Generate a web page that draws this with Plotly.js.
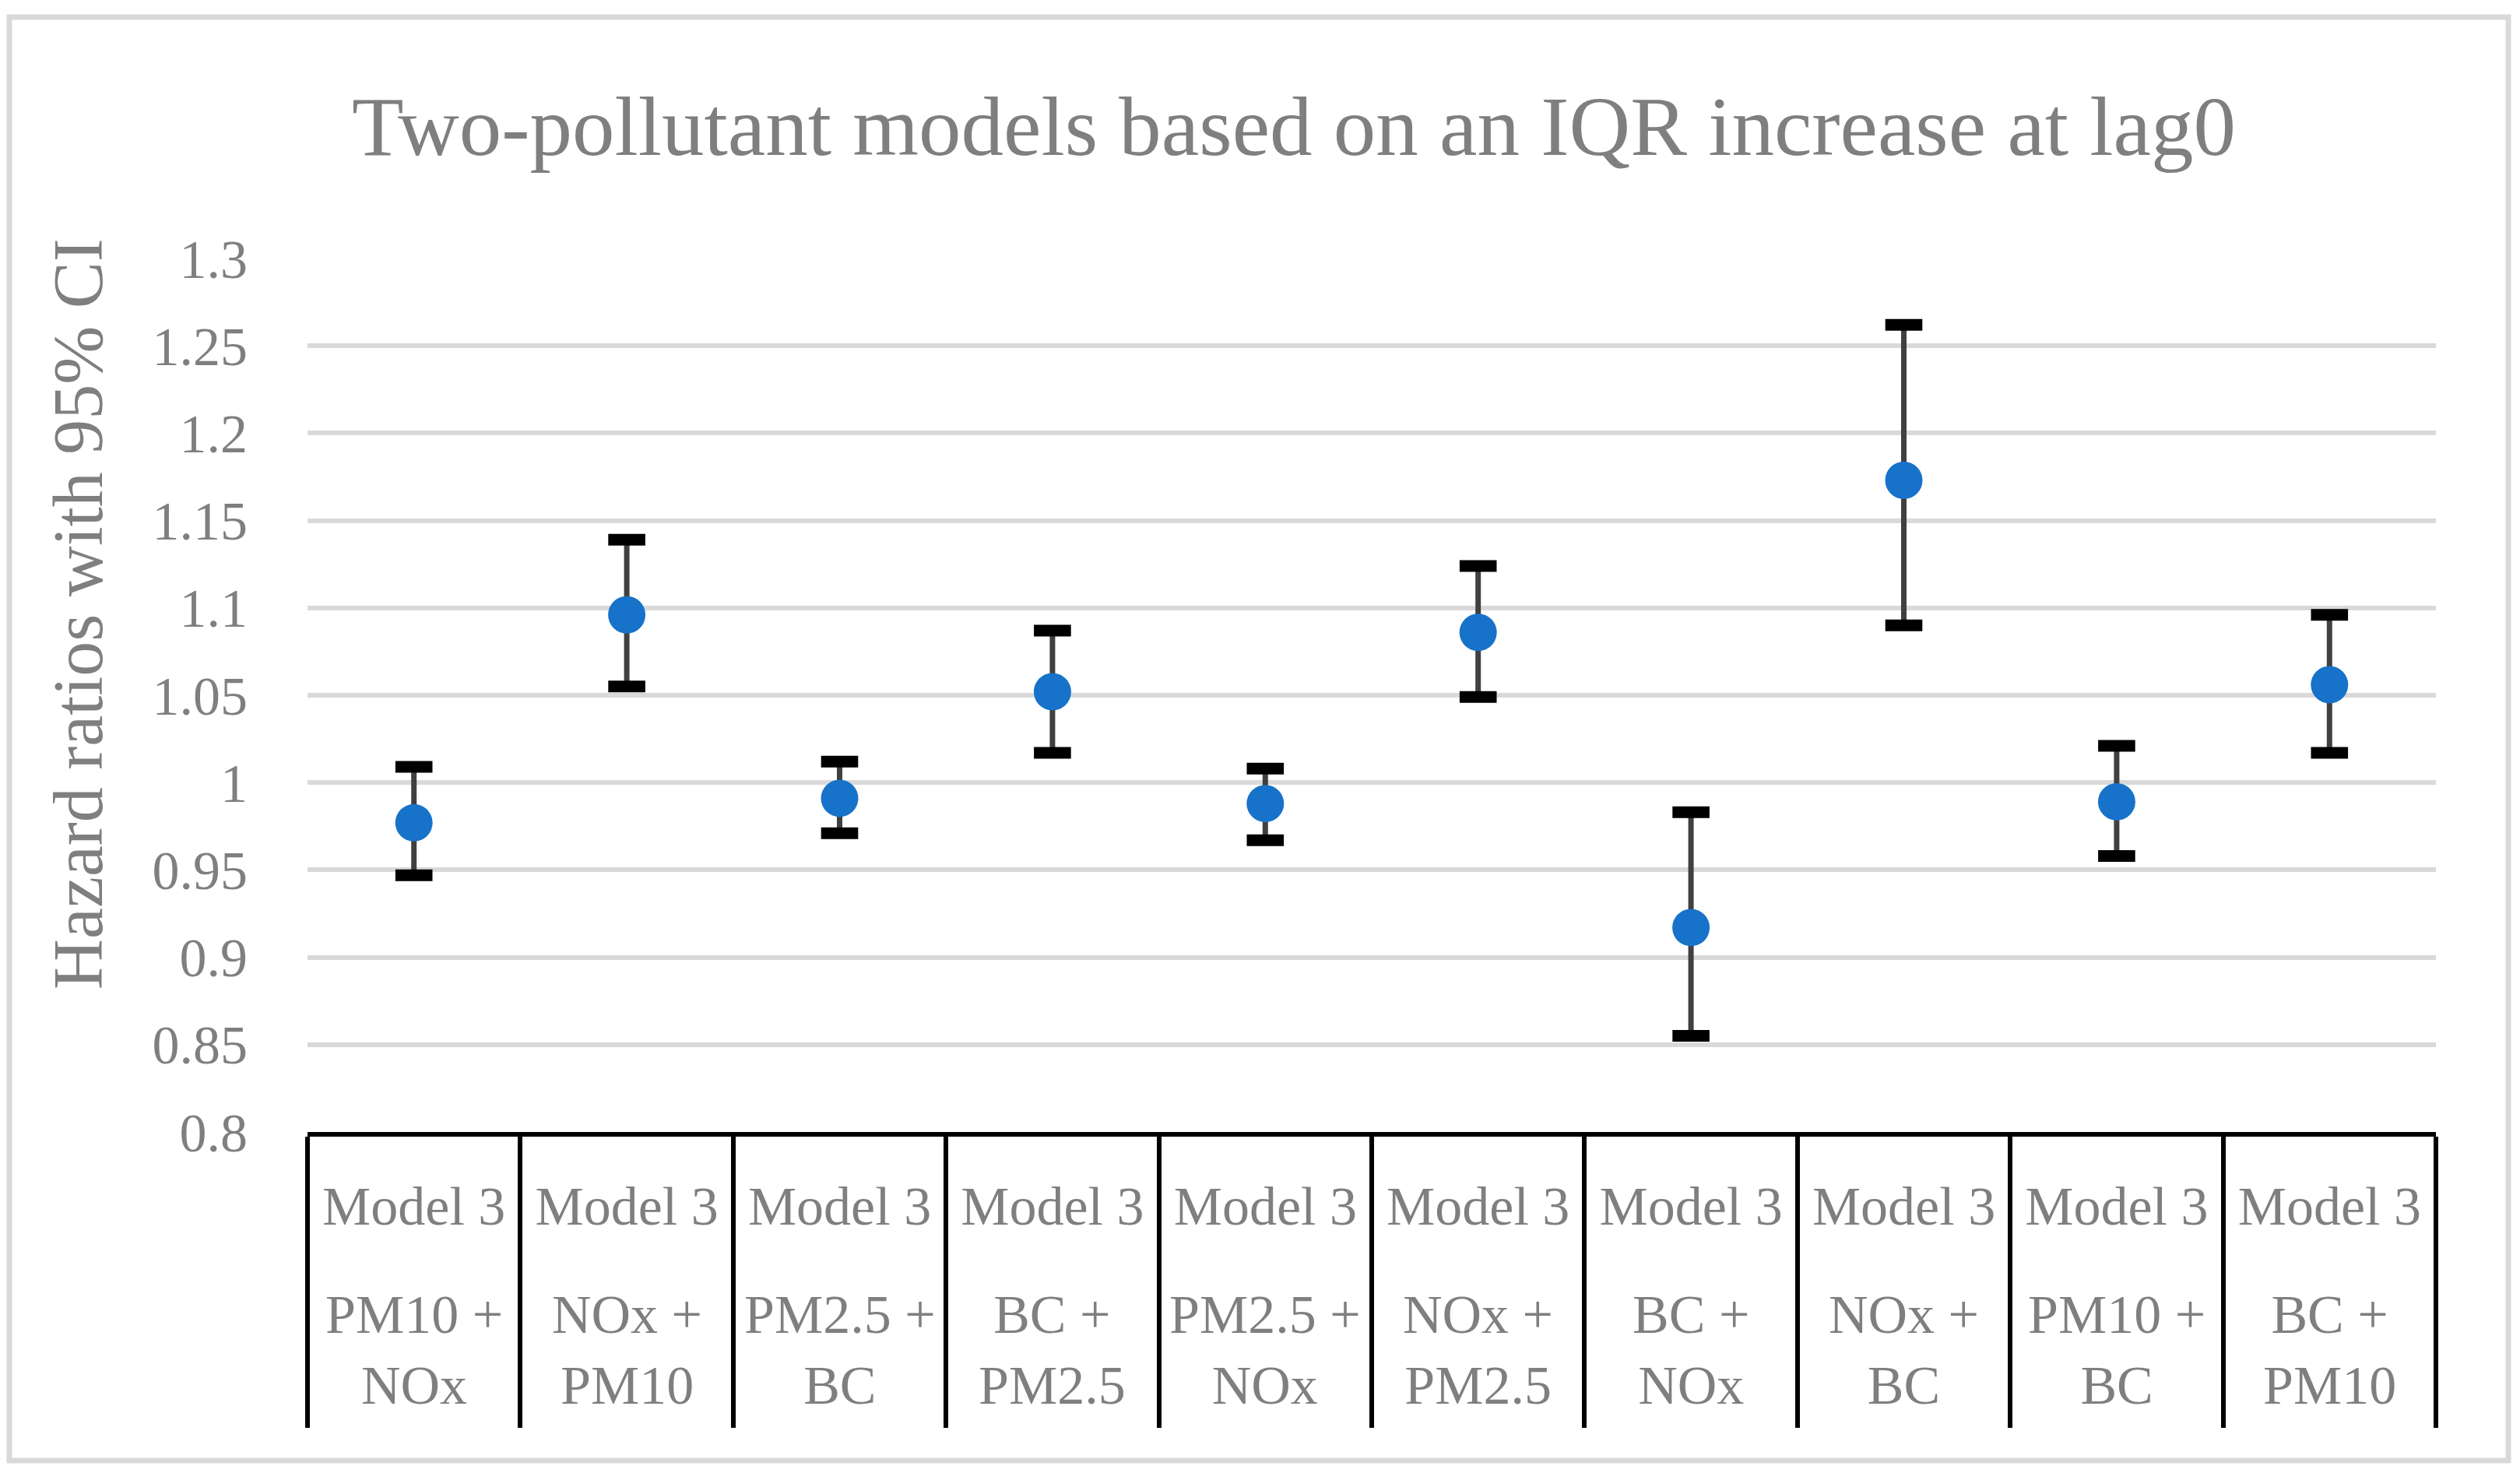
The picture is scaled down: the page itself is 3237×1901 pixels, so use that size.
<!DOCTYPE html>
<html>
<head>
<meta charset="utf-8">
<script src="https://cdn.plot.ly/plotly-3.0.1.min.js"></script>
<style>
html, body { margin: 0; padding: 0; background: #ffffff; }
#chart { width: 3237px; height: 1901px; }
</style>
</head>
<body>
<div id="chart"></div>
<script>
// ---- data ----
const categories = ["PM10 + NOx", "NOx + PM10", "PM2.5 + BC", "BC + PM2.5", "PM2.5 + NOx",
                    "NOx + PM2.5", "BC + NOx", "NOx + BC", "PM10 + BC", "BC + PM10"];
const modelLabels = ["Model 3", "Model 3", "Model 3", "Model 3", "Model 3",
                     "Model 3", "Model 3", "Model 3", "Model 3", "Model 3"];
const pairLine1 = ["PM10 +", "NOx +", "PM2.5 +", "BC +", "PM2.5 +", "NOx +", "BC +", "NOx +", "PM10 +", "BC +"];
const pairLine2 = ["NOx", "PM10", "BC", "PM2.5", "NOx", "PM2.5", "NOx", "BC", "BC", "PM10"];
const hazardRatio = [0.977, 1.096, 0.991, 1.052, 0.988, 1.086, 0.917, 1.173, 0.989, 1.056];
const ciLower     = [0.947, 1.055, 0.971, 1.017, 0.967, 1.049, 0.855, 1.090, 0.958, 1.017];
const ciUpper     = [1.009, 1.139, 1.012, 1.087, 1.008, 1.124, 0.983, 1.262, 1.021, 1.096];
const yTickVals = [0.8, 0.85, 0.9, 0.95, 1, 1.05, 1.1, 1.15, 1.2, 1.25, 1.3];
const yTickText = ["0.8", "0.85", "0.9", "0.95", "1", "1.05", "1.1", "1.15", "1.2", "1.25", "1.3"];

const FONT = "Liberation Serif, Times New Roman, serif";
const GREY = "#7f7f7f";

const errPlus = ciUpper.map((u, i) => u - hazardRatio[i]);
const errMinus = ciLower.map((l, i) => hazardRatio[i] - l);

const pointTrace = {
  type: "scatter",
  mode: "markers",
  x: categories,
  y: hazardRatio,
  marker: { color: "#1772c9", size: 48 },
  error_y: {
    type: "data", symmetric: false,
    array: errPlus, arrayminus: errMinus,
    color: "#404040", thickness: 7, width: 0
  },
  showlegend: false,
  hoverinfo: "x+y"
};

const capTrace = {
  type: "scatter",
  mode: "markers",
  x: categories.concat(categories),
  y: ciUpper.concat(ciLower),
  marker: { symbol: "line-ew", size: 34, color: "#000000", line: { color: "#000000", width: 15 } },
  showlegend: false,
  hoverinfo: "skip"
};

const pairAnnotations = categories.map((c, i) => ({
  x: c, xref: "x",
  y: -0.2496, yref: "paper",
  yanchor: "middle", xanchor: "center",
  text: pairLine1[i] + "<br>" + pairLine2[i],
  showarrow: false,
  font: { family: FONT, size: 70, color: GREY }
}));

const layout = {
  width: 3237, height: 1901,
  paper_bgcolor: "#ffffff", plot_bgcolor: "#ffffff",
  margin: { l: 395, r: 108, t: 332, b: 447, pad: 0 },
  title: {
    text: "Two-pollutant models based on an IQR increase at lag0",
    font: { family: FONT, size: 109, color: GREY },
    xref: "container", x: 1662 / 3237, xanchor: "center",
    yref: "container", y: 0.9153, yanchor: "middle"
  },
  xaxis: {
    type: "category",
    range: [-0.5, 9.5],
    tickvals: categories,
    ticktext: modelLabels,
    tickson: "boundaries",
    ticks: "outside", ticklen: 374, tickwidth: 6, tickcolor: "#000000",
    ticklabelstandoff: 29,
    tickfont: { family: FONT, size: 70, color: GREY },
    showline: true, linecolor: "#000000", linewidth: 6,
    showgrid: false, zeroline: false, fixedrange: true
  },
  yaxis: {
    range: [0.8, 1.3],
    tickvals: yTickVals, ticktext: yTickText,
    ticks: "", ticklabelstandoff: 76,
    tickfont: { family: FONT, size: 70, color: GREY },
    showgrid: true, gridcolor: "#d9d9d9", gridwidth: 6,
    showline: false, zeroline: false, fixedrange: true
  },
  annotations: [
    {
      text: "Hazard ratios with 95% CI",
      xref: "paper", yref: "paper",
      x: -0.10753, y: 0.5927,
      xanchor: "center", yanchor: "middle",
      textangle: -90, showarrow: false,
      font: { family: FONT, size: 90, color: GREY }
    }
  ].concat(pairAnnotations),
  shapes: [
    {
      type: "rect", xref: "paper", yref: "paper",
      x0: -0.14009, x1: 1.03402, y0: -0.37611, y1: 1.27629,
      line: { color: "#d9d9d9", width: 7 }, fillcolor: "rgba(0,0,0,0)",
      layer: "below"
    }
  ]
};

Plotly.newPlot("chart", [pointTrace, capTrace], layout, { displayModeBar: false, staticPlot: true });
</script>
</body>
</html>
